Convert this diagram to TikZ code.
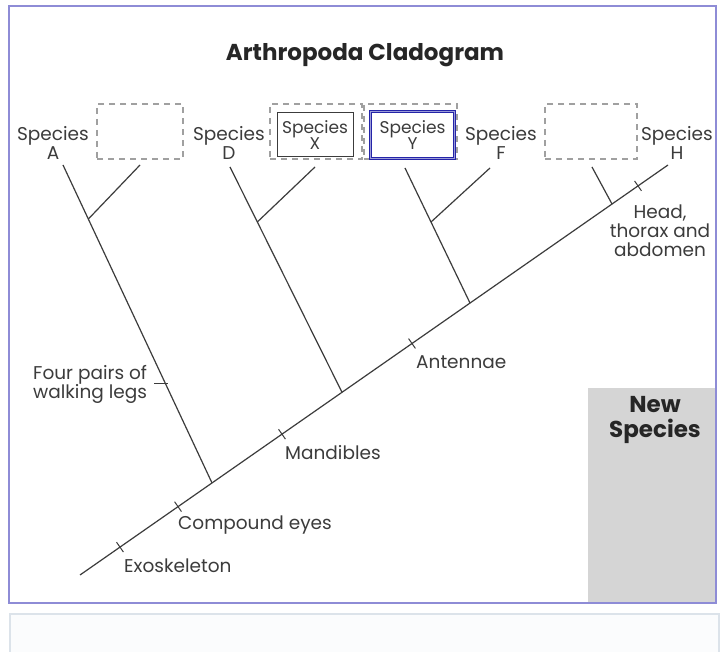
\documentclass[tikz,border=0pt]{standalone}
\usepackage{fontspec}
\setmainfont{Poppins}
\usepackage{tikz}
\usetikzlibrary{positioning,calc}
\definecolor{frame}{HTML}{8E8CD6}
\definecolor{ink}{HTML}{3C3C3C}
\definecolor{dashgray}{HTML}{A0A0A0}
\definecolor{newfill}{HTML}{D5D5D5}
\definecolor{yblue}{HTML}{2424A8}
\definecolor{lowline}{HTML}{DCE3EA}
\definecolor{lowfill}{HTML}{FBFCFD}

\begin{document}
\begin{tikzpicture}[x=1pt,y=-1pt,font=\fontsize{18.5}{19}\selectfont,
  slot/.style={draw=dashgray,line width=2.6pt,dash pattern=on 6pt off 5pt,minimum width=#1,minimum height=55pt,inner sep=0},
  spec/.style={align=center,text=ink,inner sep=0},
  trait/.style={text=ink,inner sep=0},
  branch/.style={draw=ink,line width=1.2pt}]
\useasboundingbox (0,0) rectangle (721,652);
\fill[white] (0,0) rectangle (721,652);
\draw[lowline,fill=lowfill,line width=1.2pt] (10,614) rectangle (719,660);
\fill[newfill] (588,388) rectangle (716,603);
\draw[frame,line width=2pt] (9,6) rectangle (716,603);

\node[font=\fontsize{23}{26}\selectfont\bfseries,text=black!85] (title) at (365,55) {Arthropoda Cladogram};

\node[slot=86pt] (slotB) at (140,131.5) {};
\node[slot=92pt] (slotX) at (316,131.5) {};
\node[slot=93pt] (slotY) at (410.5,131.5) {};
\node[slot=92pt] (slotE) at (591,131.5) {};
\node[draw=ink,line width=1pt,minimum width=76pt,minimum height=44pt,spec,font=\fontsize{17}{17}\selectfont] (spX) at (315,135) {Species\\[-1pt]X};
\node[draw=yblue,line width=1.3pt,double=yblue!45,double distance=1pt,minimum width=84pt,minimum height=47pt,spec,font=\fontsize{17}{17}\selectfont] (spY) at (412.5,135) {Species\\[-1pt]Y};

\node[spec] (spA) at (53,143) {Species\\A};
\node[spec] (spD) at (229,143) {Species\\D};
\node[spec] (spF) at (501,143) {Species\\F};
\node[spec] (spH) at (677,143) {Species\\H};

\coordinate (root) at (80,575);
\coordinate (tH) at (668,165);
\coordinate (tA) at (63,165);
\coordinate (tB) at (140,165);
\coordinate (tD) at (230,167);
\coordinate (tX) at (315,167);
\coordinate (tY) at (405,168);
\coordinate (tF) at (490,168);
\coordinate (tE) at (592,167);

\coordinate (jA) at ($(root)!0.2245!(tH)$);
\coordinate (jD) at ($(root)!0.4456!(tH)$);
\coordinate (jY) at ($(root)!0.6633!(tH)$);
\coordinate (jH) at ($(root)!0.9048!(tH)$);
\coordinate (kA) at ($(tA)!0.17!(jA)$);
\coordinate (kD) at ($(tD)!0.244!(jD)$);
\coordinate (kY) at ($(tY)!0.4!(jY)$);

\draw[branch] (root) -- (tH);
\draw[branch] (tA) -- (jA);
\draw[branch] (tB) -- (kA);
\draw[branch] (tD) -- (jD);
\draw[branch] (tX) -- (kD);
\draw[branch] (tY) -- (jY);
\draw[branch] (tF) -- (kY);
\draw[branch] (tE) -- (jH);

\foreach \t/\n in {0.068/exo,0.1667/eyes,0.3435/mand,0.5646/ant,0.949/body}
  \coordinate (\n) at ($(root)!\t!(tH)$);
\foreach \n in {exo,eyes,mand,ant,body}
  \draw[branch,line width=1pt] ($(\n)!6pt!90:(tH)$) -- ($(\n)!6pt!-90:(tH)$);
\coordinate (legs) at ($(tA)!0.686!(jA)$);
\draw[branch,line width=1pt] ($(legs)+(-11,0)$) -- ($(legs)+(3,0)$);

\node[trait,anchor=west] (exoL) at (124,566) {Exoskeleton};
\node[trait,anchor=west] (eyesL) at (178,525) {Compound eyes};
\node[trait,anchor=west] (mandL) at (285,453) {Mandibles};
\node[trait,anchor=west] (antL) at (416,362) {Antennae};
\node[trait,align=center] (bodyL) at (660,231) {Head,\\thorax and\\abdomen};
\node[trait,align=left,anchor=west] (legsL) at (33,384) {Four pairs of\\walking legs};

\node[font=\fontsize{23}{25}\selectfont\bfseries,align=center,text=black!85] (newsp) at (655,420) {New\\Species};
\end{tikzpicture}
\end{document}
